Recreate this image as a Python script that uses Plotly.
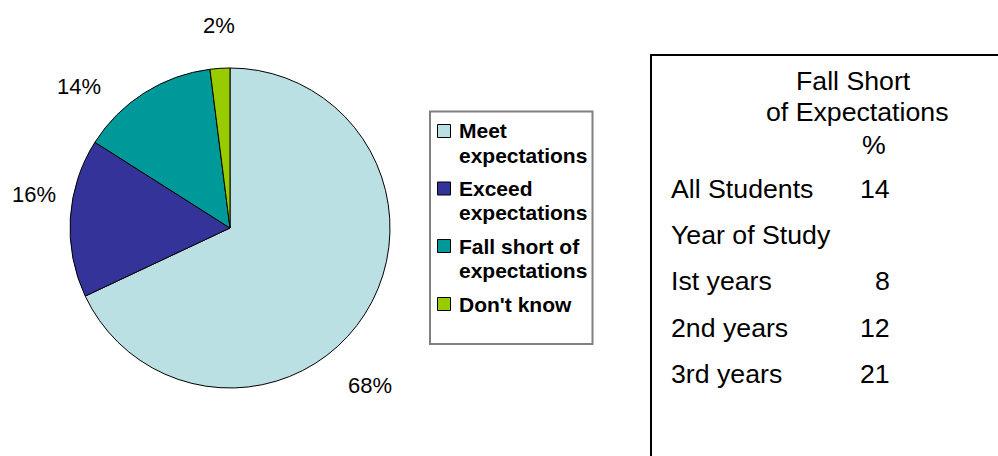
import plotly.graph_objects as go

# ---- data ----
categories = ["Meet expectations", "Exceed expectations",
              "Fall short of expectations", "Don't know"]
legend_lines = [["Meet", "expectations"], ["Exceed", "expectations"],
                ["Fall short of", "expectations"], ["Don't know"]]
shares = [68, 16, 14, 2]
colors = ["#BBE0E3", "#333399", "#009999", "#99CC00"]

table_rows = ["All Students", "Year of Study", "Ist years", "2nd years", "3rd years"]
table_values = [14, None, 8, 12, 21]
table_header = ["Fall Short", "of Expectations", "%"]

# ---- layout helpers (pixel positions in a 998x456 canvas) ----
W, H = 998, 456
FONT = "Liberation Sans, Arial, sans-serif"

def px(x):
    return x / W

def py(y):
    return 1 - y / H

cx, cy, r = 230, 228, 160
label_pos = [(370, 385), (34, 194), (79, 87), (219, 26)]

fig = go.Figure()
fig.add_trace(go.Pie(
    labels=categories,
    values=shares,
    sort=False,
    direction="clockwise",
    rotation=0,
    textinfo="none",
    marker=dict(colors=colors, line=dict(color="#000000", width=1)),
    domain=dict(x=[px(cx - r), px(cx + r)], y=[py(cy + r), py(cy - r)]),
    hoverinfo="label+percent",
    showlegend=False,
))

annotations = []
shapes = []

# percentage labels around the pie
for v, (lx, ly) in zip(shares, label_pos):
    annotations.append(dict(
        x=px(lx), y=py(ly), xref="paper", yref="paper",
        text=f"{v}%", showarrow=False, xanchor="center", yanchor="middle",
        font=dict(family=FONT, size=22, color="#000000"),
    ))

# legend box (drawn manually to match the original layout)
shapes.append(dict(
    type="rect", xref="paper", yref="paper",
    x0=px(430), x1=px(592.5), y0=py(344), y1=py(111.5),
    line=dict(color="#808080", width=2), fillcolor="#FFFFFF", layer="below",
))
item_y = [131, 188.5, 246, 304]
line_gap = 24.5
for lines, col, iy in zip(legend_lines, colors, item_y):
    shapes.append(dict(
        type="rect", xref="paper", yref="paper",
        x0=px(437.5), x1=px(450.5), y0=py(iy + 6.5), y1=py(iy - 6.5),
        line=dict(color="#000000", width=1), fillcolor=col,
    ))
    for k, t in enumerate(lines):
        annotations.append(dict(
            x=px(457), y=py(iy + k * line_gap), xref="paper", yref="paper",
            text=t, showarrow=False, xanchor="left", yanchor="middle",
            font=dict(family=FONT, size=21, color="#000000", weight=700),
        ))

# text box on the right
TSIZE = 26.7
header_pos = [(853, 81), (857, 112), (874, 145)]
for t, (hx, hy) in zip(table_header, header_pos):
    annotations.append(dict(
        x=px(hx), y=py(hy), xref="paper", yref="paper", text=t,
        showarrow=False, xanchor="center", yanchor="middle",
        font=dict(family=FONT, size=TSIZE, color="#000000"),
    ))

row_y0, row_step = 189, 46.2
for i, (name, val) in enumerate(zip(table_rows, table_values)):
    yy = row_y0 + i * row_step
    annotations.append(dict(
        x=px(669), y=py(yy), xref="paper", yref="paper", text=name,
        showarrow=False, xanchor="left", yanchor="middle",
        font=dict(family=FONT, size=TSIZE, color="#000000"),
    ))
    if val is not None:
        annotations.append(dict(
            x=px(892), y=py(yy), xref="paper", yref="paper", text=str(val),
            showarrow=False, xanchor="right", yanchor="middle",
            font=dict(family=FONT, size=TSIZE, color="#000000"),
        ))

shapes.append(dict(
    type="rect", xref="paper", yref="paper",
    x0=px(651), x1=px(1010), y0=py(470), y1=py(55),
    line=dict(color="#000000", width=2), fillcolor="rgba(0,0,0,0)",
))

fig.update_layout(
    width=W, height=H,
    margin=dict(l=0, r=0, t=0, b=0),
    paper_bgcolor="#FFFFFF",
    plot_bgcolor="#FFFFFF",
    showlegend=False,
    annotations=annotations,
    shapes=shapes,
)

fig.write_html("out.html")
